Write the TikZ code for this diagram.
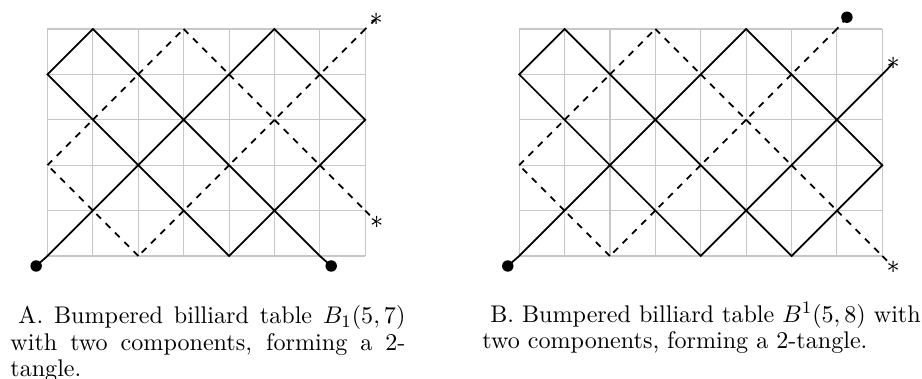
\documentclass[tikz,border=0pt]{standalone}
\usepackage{amsmath,amssymb}
\usepackage{tikz}

\begin{document}
\begin{tikzpicture}[
  x=20.63pt, y=20.63pt,
  table/.style={draw=black!22, line width=0.5pt},
  knot/.style={line width=0.8pt},
  trail/.style={knot, dashed},
  pocket/.style={circle, fill=black, inner sep=0pt, minimum size=5.2pt},
  exitmark/.style={inner sep=0pt, font=\fontsize{12.5pt}{14pt}\selectfont},
  capt/.style={inner sep=0pt, anchor=north west, font=\fontsize{10.95pt}{12.1pt}\selectfont}
]
\useasboundingbox (-1.046,-2.709) rectangle (19.264,5.639);

% table A: B_1(5,7)
\begin{scope}
  \draw[table, step=1] (0,0) grid (7,5);
  \node[pocket] (a-in) at (-0.25,-0.22) {};
  \node[pocket] (a-out) at (6.25,-0.22) {};
  \node[exitmark] (a-top) at (7.24,5.22) {$*$};
  \node[exitmark] (a-low) at (7.25,0.74) {$*$};
  \draw[knot] (a-in.center) -- (0,0) -- (5,5) -- (7,3) -- (4,0) -- (0,4) -- (1,5) -- (6,0) -- (a-out.center);
  \draw[trail] (a-top.center) -- (7,5);
  \foreach \x/\y/\dx/\dy/\n in {7/5/-1/-1/5, 2/0/-1/1/2, 0/2/1/1/3, 3/5/1/-1/4}
    \foreach \k in {1,...,\n}
      \draw[trail] ({\x+(\k-1)*(\dx)},{\y+(\k-1)*(\dy)}) -- ++(\dx,\dy);
  \draw[trail] (7,1) -- (a-low.center);
\end{scope}

% table B: B^1(5,8)
\begin{scope}[shift={(10.39,0)}]
  \draw[table, step=1] (0,0) grid (8,5);
  \node[pocket] (b-in) at (-0.25,-0.22) {};
  \node[pocket] (b-top) at (7.22,5.26) {};
  \node[exitmark] (b-right) at (8.24,4.25) {$*$};
  \node[exitmark] (b-low) at (8.24,-0.24) {$*$};
  \draw[knot] (b-in.center) -- (0,0) -- (5,5) -- (8,2) -- (6,0) -- (1,5) -- (0,4) -- (4,0) -- (8,4) -- (b-right.center);
  \draw[trail] (b-top.center) -- (7,5);
  \foreach \x/\y/\dx/\dy/\n in {7/5/-1/-1/5, 2/0/-1/1/2, 0/2/1/1/3, 3/5/1/-1/5}
    \foreach \k in {1,...,\n}
      \draw[trail] ({\x+(\k-1)*(\dx)},{\y+(\k-1)*(\dy)}) -- ++(\dx,\dy);
  \draw[trail] (8,0) -- (b-low.center);
\end{scope}

% captions
\node[capt, text width=179.5pt, align=justify] (capA) at (-0.826,-1.08)
  {\hspace*{0.333em}A. Bumpered billiard table $B_1(5,7)$ with two components, forming a 2-tangle.};
\node[capt, align=left] (capB) at (9.57,-1.006)
  {\hspace*{0.333em}B. Bumpered billiard table $B^1(5,8)$ with\\two components, forming a 2-tangle.};
\end{tikzpicture}
\end{document}
